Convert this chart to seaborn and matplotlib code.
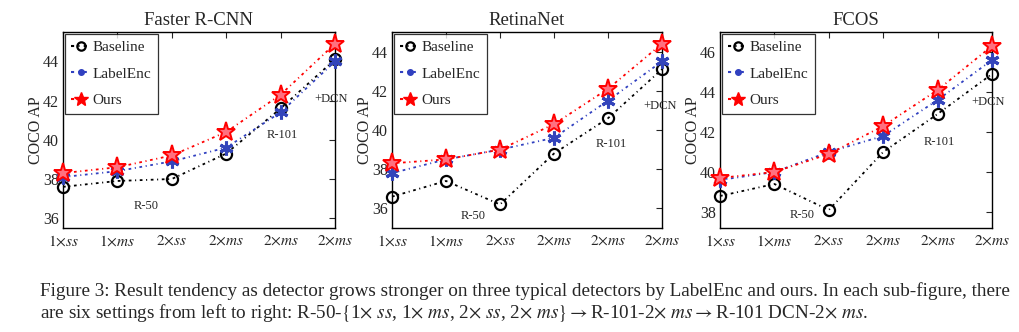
import numpy as np
import pandas as pd
import matplotlib
matplotlib.use("Agg")
import matplotlib.pyplot as plt
import seaborn as sns
from matplotlib.lines import Line2D

# ---- data ----
settings = [r"$1{\times}ss$", r"$1{\times}ms$", r"$2{\times}ss$", r"$2{\times}ms$", r"$2{\times}ms$", r"$2{\times}ms$"]
detectors = ["Faster R-CNN", "RetinaNet", "FCOS"]

faster_baseline = [37.6, 37.9, 38.0, 39.3, 41.6, 44.1]
faster_labelenc = [38.1, 38.4, 38.9, 39.6, 41.4, 44.0]
faster_ours = [38.3, 38.6, 39.2, 40.4, 42.3, 44.9]

retina_baseline = [36.6, 37.4, 36.2, 38.8, 40.6, 43.1]
retina_labelenc = [37.8, 38.5, 39.0, 39.6, 41.5, 43.5]
retina_ours = [38.3, 38.5, 39.0, 40.3, 42.1, 44.4]

fcos_baseline = [38.8, 39.4, 38.1, 41.0, 42.9, 44.9]
fcos_labelenc = [39.6, 40.0, 41.0, 41.8, 43.6, 45.6]
fcos_ours = [39.7, 40.0, 40.9, 42.3, 44.1, 46.3]

series_names = ["Baseline", "LabelEnc", "Ours"]

y_limits = [(35.5, 45.5), (35.0, 45.0), (37.2, 47.0)]
y_ticks = [[36, 38, 40, 42, 44], [36, 38, 40, 42, 44], [38, 40, 42, 44, 46]]

annot_labels = ["R-50", "R-101", "+DCN"]
annot_pos = [
    [(1.53, 36.6), (4.04, 40.25), (4.93, 42.1)],
    [(1.50, 35.6), (4.07, 39.3), (4.96, 41.2)],
    [(1.51, 37.87), (4.04, 41.5), (4.93, 43.5)],
]

all_values = [
    [faster_baseline, faster_labelenc, faster_ours],
    [retina_baseline, retina_labelenc, retina_ours],
    [fcos_baseline, fcos_labelenc, fcos_ours],
]

# ---- style ----
sns.set_style("white")
plt.rcParams["font.family"] = ["Liberation Serif", "DejaVu Serif"]
plt.rcParams["mathtext.fontset"] = "stix"

styles = {
    "Baseline": dict(color="black", marker="o", markersize=8, markerfacecolor="none",
                     markeredgecolor="black", markeredgewidth=1.6),
    "LabelEnc": dict(color="#3040c0", marker=(6, 2, 0), markersize=10,
                     markeredgecolor="#3344bb", markeredgewidth=2.2),
    "Ours": dict(color="red", marker="*", markersize=14, markerfacecolor="#ff7080",
                 markeredgecolor="red", markeredgewidth=1.4),
}
dash = (0, (1.5, 2.0, 0.6, 2.0))

fig = plt.figure(figsize=(10.19, 3.32), dpi=100)
lefts = [63 / 1019, 392 / 1019, 720 / 1019]
widths = [272 / 1019, 270 / 1019, 272 / 1019]
bottom = 1 - 228 / 332
height = 196 / 332

x = np.arange(len(settings))
for i, det in enumerate(detectors):
    ax = fig.add_axes([lefts[i], bottom, widths[i], height])
    rows = []
    for name, vals in zip(series_names, all_values[i]):
        for xi, v in zip(x, vals):
            rows.append({"x": xi, "AP": v, "method": name})
    df = pd.DataFrame(rows)
    for name in series_names:
        sub = df[df["method"] == name]
        sns.lineplot(data=sub, x="x", y="AP", ax=ax, linestyle=dash, linewidth=1.3,
                     clip_on=False, zorder=3, **styles[name])
    ax.set_xlim(0, 5)
    ax.set_ylim(*y_limits[i])
    ax.set_yticks(y_ticks[i])
    ax.set_xticks(x)
    ax.set_xticklabels(settings, fontsize=11)
    ax.tick_params(axis="y", labelsize=11.5, pad=3)
    ax.tick_params(direction="in", top=True, right=True, length=4, width=0.8)
    ax.tick_params(axis="x", pad=4)
    ax.set_xlabel("")
    ax.set_ylabel("COCO AP", fontsize=11.5, labelpad=-1)
    ax.set_title(det, fontsize=13.5, pad=5)
    for sp in ax.spines.values():
        sp.set_linewidth(1.0)
        sp.set_color("black")
    for lab, (px, py) in zip(annot_labels, annot_pos[i]):
        ax.text(px, py, lab, ha="center", va="center", fontsize=9)
    handles = [
        Line2D([], [], color="black", linestyle=dash, marker="o", markersize=6,
               markerfacecolor="none", markeredgewidth=1.6),
        Line2D([], [], color="#3040c0", linestyle=dash, marker="o", markersize=4,
               markerfacecolor="#3040c0", markeredgecolor="#3040c0"),
        Line2D([], [], color="red", linestyle=dash, marker="*", markersize=10,
               markerfacecolor="red", markeredgecolor="red"),
    ]
    leg = ax.legend(handles, series_names, loc="upper left", fontsize=11, frameon=True,
                    fancybox=False, edgecolor="black", handlelength=1.2, handletextpad=0.2,
                    labelspacing=0.85, borderaxespad=0.15, borderpad=0.4)
    leg.get_frame().set_linewidth(0.9)

cap1 = ("Figure 3: Result tendency as detector grows stronger on three typical detectors by LabelEnc and ours. "
        "In each sub-figure, there")
cap2 = (r"are six settings from left to right: R-50-$\{$1$\times$ $ss$, 1$\times$ $ms$, 2$\times$ $ss$, "
        r"2$\times$ $ms\}\rightarrow$R-101-2$\times$ $ms\rightarrow$R-101 DCN-2$\times$ $ms$.")
fig.text(40 / 1019, 1 - 291 / 332, cap1, fontsize=13.8, va="center", ha="left")
fig.text(40 / 1019, 1 - 313 / 332, cap2, fontsize=13.8, va="center", ha="left")

fig.savefig("out.png", dpi=100)
